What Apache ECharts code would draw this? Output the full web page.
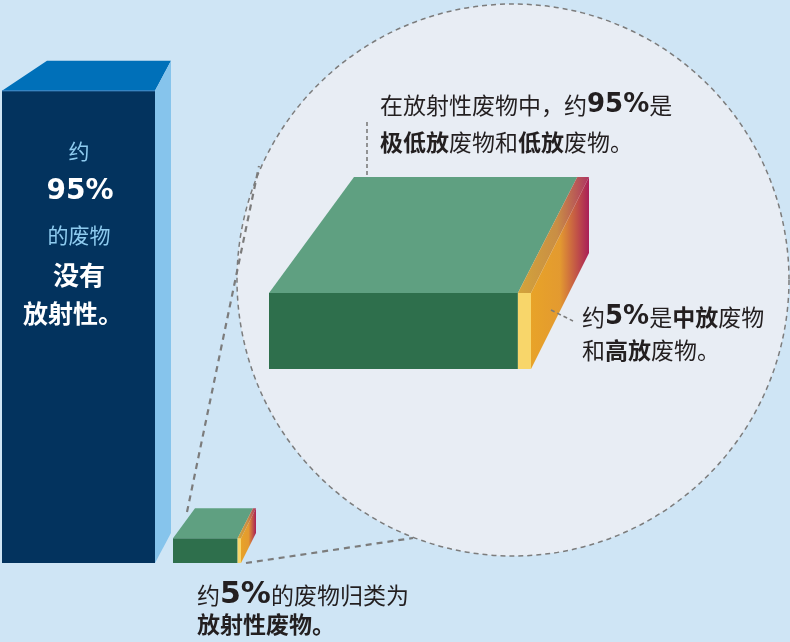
<!DOCTYPE html>
<html>
<head>
<meta charset="utf-8">
<script src="https://cdn.jsdelivr.net/npm/echarts@6/dist/echarts.min.js"></script>
<style>
  html, body { margin: 0; padding: 0; background: #cfe5f5; }
  #main { width: 790px; height: 642px; }
</style>
</head>
<body>
<div id="main"></div>
<script>
// 数据
const wasteLabels = ['非放射性废物', '放射性废物'];
const wasteShare = [95, 5];
const radioLabels = ['极低放和低放废物', '中放和高放废物'];
const radioShare = [95, 5];

// 版式（像素）
const BOX_LAYOUT = [
  { x0: 2, x1: 155, dxL: 45, dxR: 16, dy: 30 },
  { x0: 173, x1: 241, dxL: 22, dxR: 15, dy: 30 }
];
const ZOOM_BOX = { x0: 269, x1: 531, top: 293, bottom: 369, dxL: 85, dxR: 58, dy: 116 };

const CJK = '"Noto Sans CJK SC", sans-serif';
const LAT = '"DejaVu Sans", "Noto Sans CJK SC", sans-serif';
const DARK = '#231f20';
const DASH = '#7c7c7c';

const sideGrad = () => new echarts.graphic.LinearGradient(0, 0, 1, 0, [
  { offset: 0, color: '#e8a328' },
  { offset: 0.5, color: '#e39a30' },
  { offset: 1, color: '#a91f58' }
]);
const topGrad = () => new echarts.graphic.LinearGradient(0, 0, 1, 0, [
  { offset: 0, color: '#d3a43a' },
  { offset: 0.55, color: '#c98e45' },
  { offset: 1, color: '#ae3662' }
]);
const partColors = [
  { front: '#2e6f4c', top: '#5fa081' },
  { front: '#f8d66a', top: null }
];

// 画一个透视盒子的正面+顶面分段，以及侧面
function buildBox(L, top, bottom, parts, sideFill, withSide) {
  const dxAt = x => L.dxL + (L.dxR - L.dxL) * (x - L.x0) / (L.x1 - L.x0);
  const children = [];
  parts.forEach(p => {
    const xa = p.xa, xb = p.xb;
    children.push({
      type: 'polygon',
      shape: { points: [[xa, top], [xb, top], [xb, bottom], [xa, bottom]] },
      style: { fill: p.front }
    });
    children.push({
      type: 'polygon',
      shape: { points: [[xa, top], [xb, top], [xb + dxAt(xb), top - L.dy], [xa + dxAt(xa), top - L.dy]] },
      style: { fill: p.top || topGrad() }
    });
  });
  if (withSide) {
    children.push({
      type: 'polygon',
      shape: { points: [[L.x1, top], [L.x1 + L.dxR, top - L.dy], [L.x1 + L.dxR, bottom - L.dy], [L.x1, bottom]] },
      style: { fill: sideFill }
    });
  }
  return children;
}

function splitParts(x0, x1, shares) {
  const total = shares.reduce((a, b) => a + b, 0);
  let acc = 0;
  return shares.map((v, i) => {
    const xa = x0 + (x1 - x0) * acc / total;
    acc += v;
    const xb = x0 + (x1 - x0) * acc / total;
    return { xa, xb, front: partColors[i].front, top: partColors[i].top };
  });
}

const chart = echarts.init(document.getElementById('main'));

chart.setOption({
  backgroundColor: '#cfe5f5',
  animation: false,
  grid: { left: 0, right: 0, top: 66, bottom: 79 },
  xAxis: { type: 'value', min: 0, max: 790, show: false },
  yAxis: { type: 'value', min: 0, max: 100, show: false },
  series: [
    {
      // 所有废物：左边高柱 + 底部小盒子
      type: 'custom',
      name: '废物',
      clip: false,
      z: 3,
      data: wasteShare.map((v, i) => [i, v, wasteLabels[i]]),
      renderItem: function (params, api) {
        const i = params.dataIndex;
        const L = BOX_LAYOUT[i];
        const top = api.coord([0, api.value(1)])[1];
        const bottom = api.coord([0, 0])[1];
        let parts, side;
        if (i === 0) {
          parts = [{ xa: L.x0, xb: L.x1, front: '#03335e', top: '#0070b9' }];
          side = '#86c4ec';
        } else {
          parts = splitParts(L.x0, L.x1, radioShare);
          side = sideGrad();
        }
        const children = buildBox(L, top, bottom, parts, side, true);
        if (i === 0) {
          // 顶边的细亮线
          children.push({
            type: 'line',
            shape: { x1: L.x0, y1: top, x2: L.x1, y2: top },
            style: { stroke: '#3f86c4', lineWidth: 1 }
          });
        }
        return { type: 'group', children: children };
      }
    },
    {
      // 放大的放射性废物盒子
      type: 'custom',
      name: '放射性废物',
      clip: false,
      z: 3,
      data: radioShare.map((v, i) => [i, v, radioLabels[i]]),
      renderItem: function (params, api) {
        const i = params.dataIndex;
        const L = ZOOM_BOX;
        const parts = splitParts(L.x0, L.x1, radioShare).slice(i, i + 1);
        const last = i === radioShare.length - 1;
        return { type: 'group', children: buildBox(L, L.top, L.bottom, parts, sideGrad(), last) };
      }
    }
  ],
  graphic: {
    elements: [
      {
        type: 'circle', z: 0,
        shape: { cx: 513, cy: 280, r: 276 },
        style: { fill: '#e8edf4', stroke: DASH, lineWidth: 1.5, lineDash: [5, 4] }
      },
      { type: 'line', z: 10, shape: { x1: 187, y1: 512, x2: 259, y2: 166 },
        style: { stroke: DASH, lineWidth: 2.2, lineDash: [6, 5] } },
      { type: 'line', z: 10, shape: { x1: 246, y1: 563, x2: 413, y2: 538 },
        style: { stroke: DASH, lineWidth: 2.2, lineDash: [6, 5] } },
      { type: 'line', z: 10, shape: { x1: 367, y1: 122, x2: 367, y2: 175 },
        style: { stroke: DASH, lineWidth: 1.6, lineDash: [4, 3] } },
      { type: 'line', z: 10, shape: { x1: 551, y1: 310, x2: 573, y2: 321 },
        style: { stroke: DASH, lineWidth: 1.6, lineDash: [4, 3] } },

      // 高柱上的文字
      { type: 'text', z: 20, x: 79, y: 151,
        style: { text: '约', fill: '#8ecbef', font: '21px ' + CJK, align: 'center', verticalAlign: 'middle' } },
      { type: 'text', z: 20, x: 80, y: 192,
        style: { text: '95%', fill: '#ffffff', font: 'bold 28px ' + LAT, align: 'center', verticalAlign: 'middle' } },
      { type: 'text', z: 20, x: 79, y: 235,
        style: { text: '的废物', fill: '#8ecbef', font: '21px ' + CJK, align: 'center', verticalAlign: 'middle' } },
      { type: 'text', z: 20, x: 79, y: 275,
        style: { text: '没有', fill: '#ffffff', font: 'bold 26px ' + CJK, align: 'center', verticalAlign: 'middle' } },
      { type: 'text', z: 20, x: 73, y: 313,
        style: { text: '放射性。', fill: '#ffffff', font: 'bold 25px ' + CJK, align: 'center', verticalAlign: 'middle' } },

      // 圆内上方说明
      { type: 'text', z: 20, x: 380, y: 105,
        style: {
          text: '在放射性废物中，约{n|95%}是', fill: DARK, font: '23px ' + CJK, align: 'left', verticalAlign: 'middle',
          rich: { n: { fontWeight: 'bold', fontSize: 26, fontFamily: LAT, fill: DARK } }
        } },
      { type: 'text', z: 20, x: 380, y: 142,
        style: {
          text: '{b|极低放}废物和{b|低放}废物。', fill: DARK, font: '23px ' + CJK, align: 'left', verticalAlign: 'middle',
          rich: { b: { fontWeight: 'bold', fontSize: 23, fontFamily: CJK, fill: DARK } }
        } },

      // 圆内右侧说明
      { type: 'text', z: 20, x: 582, y: 317,
        style: {
          text: '约{n|5%}是{b|中放}废物', fill: DARK, font: '23px ' + CJK, align: 'left', verticalAlign: 'middle',
          rich: {
            n: { fontWeight: 'bold', fontSize: 26, fontFamily: LAT, fill: DARK },
            b: { fontWeight: 'bold', fontSize: 23, fontFamily: CJK, fill: DARK }
          }
        } },
      { type: 'text', z: 20, x: 582, y: 350,
        style: {
          text: '和{b|高放}废物。', fill: DARK, font: '23px ' + CJK, align: 'left', verticalAlign: 'middle',
          rich: { b: { fontWeight: 'bold', fontSize: 23, fontFamily: CJK, fill: DARK } }
        } },

      // 底部说明
      { type: 'text', z: 20, x: 197, y: 595,
        style: {
          text: '约{n|5%}的废物归类为', fill: DARK, font: '23px ' + CJK, align: 'left', verticalAlign: 'middle',
          rich: { n: { fontWeight: 'bold', fontSize: 30, fontFamily: LAT, fill: DARK } }
        } },
      { type: 'text', z: 20, x: 197, y: 624,
        style: { text: '放射性废物。', fill: DARK, font: 'bold 23px ' + CJK, align: 'left', verticalAlign: 'middle' } }
    ]
  }
});
</script>
</body>
</html>
